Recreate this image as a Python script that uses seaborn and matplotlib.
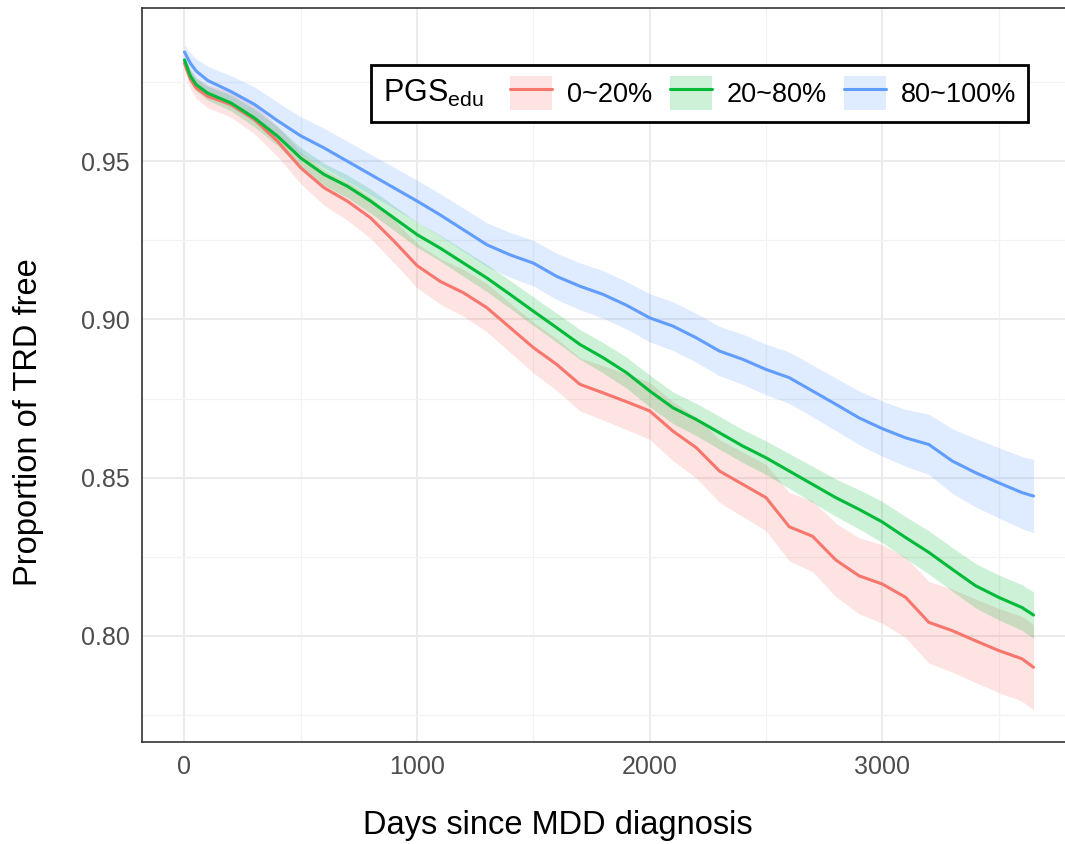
import matplotlib
matplotlib.use("Agg")
import matplotlib.pyplot as plt
from matplotlib.lines import Line2D
from matplotlib.patches import Patch
from matplotlib.offsetbox import HPacker
import pandas as pd
import seaborn as sns

# values (survival estimate and CI half-width)
days = [0, 25, 50, 100, 200, 300, 400, 500, 600, 700, 800, 900, 1000,
        1100, 1200, 1300, 1400, 1500, 1600, 1700, 1800, 1900, 2000,
        2100, 2200, 2300, 2400, 2500, 2600, 2700, 2800, 2900, 3000,
        3100, 3200, 3300, 3400, 3500, 3600, 3650]

groups = ["0~20%", "20~80%", "80~100%"]
colors = ["#F8766D", "#00BA38", "#619CFF"]

surv_low = [0.981, 0.976, 0.9731, 0.9705, 0.9679, 0.9632, 0.9563, 0.9479,
            0.9416, 0.9374, 0.9321, 0.9248, 0.9170, 0.912, 0.9084, 0.9037,
            0.8974, 0.8911, 0.8858, 0.8795, 0.8768, 0.874, 0.8711, 0.8647,
            0.8595, 0.8521, 0.8479, 0.8437, 0.8345, 0.8315, 0.824, 0.819,
            0.8164, 0.8122, 0.8043, 0.8017, 0.7985, 0.7954, 0.7928, 0.7901]
surv_mid = [0.982, 0.977, 0.9742, 0.9715, 0.9684, 0.9637, 0.9579, 0.951,
            0.9458, 0.9421, 0.9374, 0.9321, 0.9268, 0.9225, 0.9178, 0.9131,
            0.9079, 0.9026, 0.8974, 0.8921, 0.8879, 0.8832, 0.8774, 0.8721,
            0.8684, 0.8642, 0.860, 0.8563, 0.8521, 0.8479, 0.8437, 0.840,
            0.836, 0.8311, 0.8264, 0.8211, 0.8159, 0.8122, 0.809, 0.8066]
surv_high = [0.9845, 0.981, 0.9785, 0.9755, 0.972, 0.968, 0.9628, 0.958,
             0.9542, 0.950, 0.9458, 0.9416, 0.9374, 0.933, 0.9283, 0.9236,
             0.9204, 0.9178, 0.9136, 0.9105, 0.9079, 0.9045, 0.9005, 0.8979,
             0.8942, 0.890, 0.8874, 0.8842, 0.8816, 0.8774, 0.8732, 0.8689,
             0.8655, 0.8626, 0.8605, 0.8553, 0.8516, 0.8484, 0.8453, 0.8442]

hw_low = [0.002, 0.003, 0.0033, 0.0036, 0.004, 0.0045, 0.0048, 0.005,
          0.0055, 0.006, 0.0065, 0.0068, 0.007, 0.0072, 0.0074, 0.0076,
          0.0078, 0.008, 0.0082, 0.0084, 0.0086, 0.0088, 0.009, 0.0093,
          0.0096, 0.0099, 0.0102, 0.0105, 0.0108, 0.0112, 0.0116, 0.012,
          0.0124, 0.0127, 0.0129, 0.0131, 0.0132, 0.0133, 0.0134, 0.0135]
hw_mid = [0.0012, 0.0018, 0.002, 0.0022, 0.0025, 0.0028, 0.003, 0.0033,
          0.0035, 0.0036, 0.0038, 0.0039, 0.004, 0.0041, 0.0042, 0.0043,
          0.0044, 0.0045, 0.0046, 0.0047, 0.0048, 0.0049, 0.005, 0.005,
          0.0051, 0.0052, 0.0052, 0.0053, 0.0055, 0.0057, 0.0059, 0.0062,
          0.0065, 0.0066, 0.0068, 0.0069, 0.007, 0.0071, 0.0072, 0.0073]
hw_high = [0.0022, 0.0032, 0.0038, 0.0045, 0.005, 0.0055, 0.0058, 0.006,
           0.0062, 0.0063, 0.0064, 0.0065, 0.0066, 0.0067, 0.0068, 0.0069,
           0.0071, 0.0072, 0.0073, 0.0074, 0.0075, 0.0075, 0.0076, 0.0077,
           0.0077, 0.0078, 0.0079, 0.008, 0.0081, 0.0082, 0.0083, 0.0085,
           0.0087, 0.009, 0.0095, 0.0102, 0.0108, 0.0111, 0.0114, 0.0116]

frames = []
for g, s, h in zip(groups, [surv_low, surv_mid, surv_high], [hw_low, hw_mid, hw_high]):
    d = pd.DataFrame({"days": days, "surv": s, "hw": h})
    d["group"] = g
    d["lower"] = d["surv"] - d["hw"]
    d["upper"] = d["surv"] + d["hw"]
    frames.append(d)
df = pd.concat(frames, ignore_index=True)

sns.set_style("white")
plt.rcParams["font.family"] = ["Liberation Sans", "DejaVu Sans"]

fig = plt.figure(figsize=(10.65, 8.44), dpi=100)
# panel runs past the right edge, as in the (cropped) reference
ax = fig.add_axes([142 / 1065, 1 - 742 / 844, (1076 - 142) / 1065, (742 - 8) / 844])

# confidence ribbons first, lines on top
for g, c in zip(groups, colors):
    d = df[df["group"] == g]
    ax.fill_between(d["days"], d["lower"], d["upper"], color=c, alpha=0.2,
                    lw=0, zorder=1)

sns.lineplot(data=df, x="days", y="surv", hue="group", palette=colors,
             hue_order=groups, lw=2.2, legend=False, ax=ax, zorder=2)

ax.set_xlim(-182.5, 3832.5)
ax.set_ylim(0.7665, 0.9984)
ax.set_xticks([0, 1000, 2000, 3000])
ax.set_xticks([500, 1500, 2500, 3500], minor=True)
ax.set_yticks([0.80, 0.85, 0.90, 0.95])
ax.set_yticklabels(["0.80", "0.85", "0.90", "0.95"])
ax.set_yticks([0.775, 0.825, 0.875, 0.925, 0.975], minor=True)

ax.grid(which="major", color="#EBEBEB", lw=1.5, zorder=0)
ax.grid(which="minor", color="#F2F2F2", lw=0.9, zorder=0)
ax.set_axisbelow(True)
for sp in ax.spines.values():
    sp.set_color("#333333")
    sp.set_linewidth(1.2)

ax.tick_params(which="major", length=5, width=1.3, color="#333333",
               labelcolor="#4D4D4D", labelsize=18, pad=4)
ax.tick_params(which="minor", length=0)

ax.set_xlabel("Days since MDD diagnosis", fontsize=23.5, color="black")
ax.set_ylabel("Proportion of TRD free", fontsize=23.5, color="black")
ax.xaxis.set_label_coords((558 - 142) / 934, -0.093)
ax.yaxis.set_label_coords((44 - 142) / 934, 0.436)

handles = [(Patch(facecolor=c, alpha=0.2, edgecolor="none"),
            Line2D([], [], color=c, lw=2.2)) for c in colors]
leg = ax.legend(handles, groups, title=r"$\mathregular{PGS_{edu}}$", ncol=3,
                loc="upper right", bbox_to_anchor=(1028 / 1065, 1 - 65 / 844),
                bbox_transform=fig.transFigure, borderaxespad=0,
                fontsize=19.5, title_fontsize=22,
                handlelength=1.55, handleheight=1.55, handletextpad=0.55,
                columnspacing=0.65, borderpad=0.42, fancybox=False,
                edgecolor="black", framealpha=1)
leg.get_frame().set_linewidth(2)
for t in leg.get_texts():
    t.set_color("black")
leg.get_title().set_color("black")
# put the legend title to the left of the keys, as ggplot does
leg._legend_box.__class__ = HPacker
leg._legend_box.sep = 19

fig.savefig("out.png", dpi=100)
